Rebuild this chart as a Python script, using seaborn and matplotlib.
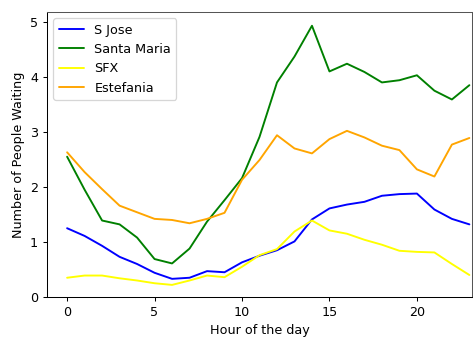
import numpy as np
import pandas as pd
import matplotlib
matplotlib.use("Agg")
import matplotlib.pyplot as plt
import seaborn as sns

hours = list(range(24))
s_jose = [1.25, 1.11, 0.93, 0.73, 0.60, 0.44, 0.33, 0.35, 0.47, 0.45, 0.63, 0.75,
          0.85, 1.01, 1.41, 1.61, 1.68, 1.73, 1.84, 1.87, 1.88, 1.59, 1.42, 1.32]
santa_maria = [2.55, 1.95, 1.39, 1.32, 1.08, 0.69, 0.61, 0.88, 1.37, 1.76, 2.16, 2.91,
               3.90, 4.37, 4.93, 4.10, 4.24, 4.09, 3.90, 3.94, 4.03, 3.75, 3.59, 3.85]
sfx = [0.35, 0.39, 0.39, 0.34, 0.30, 0.25, 0.22, 0.30, 0.39, 0.36, 0.55, 0.76,
       0.87, 1.19, 1.39, 1.21, 1.15, 1.04, 0.95, 0.84, 0.82, 0.81, 0.60, 0.40]
estefania = [2.63, 2.27, 1.96, 1.66, 1.54, 1.42, 1.40, 1.34, 1.42, 1.53, 2.13, 2.49,
             2.94, 2.70, 2.61, 2.87, 3.02, 2.90, 2.75, 2.67, 2.32, 2.19, 2.77, 2.89]
names = ["S Jose", "Santa Maria", "SFX", "Estefania"]
colors = ["blue", "green", "yellow", "orange"]

df = pd.DataFrame({
    "hour": hours * 4,
    "value": s_jose + santa_maria + sfx + estefania,
    "site": sum([[n] * 24 for n in names], []),
})

DPI = 92
sns.set_style("white")
plt.rcParams["font.family"] = ["DejaVu Sans"]
plt.rcParams["text.color"] = "black"
plt.rcParams["axes.labelcolor"] = "black"
plt.rcParams["xtick.color"] = "black"
plt.rcParams["ytick.color"] = "black"
fig = plt.figure(figsize=(473 / DPI, 338 / DPI), dpi=DPI)
ax = fig.add_axes([47 / 473, 1 - 297 / 338, 425 / 473, 285 / 338])
sns.lineplot(data=df, x="hour", y="value", hue="site", palette=colors,
             hue_order=names, ax=ax, linewidth=1.5)
ax.set_xlim(-1.15, 23.15)
ax.set_ylim(0, 5.18)
ax.set_xticks([0, 5, 10, 15, 20])
ax.set_yticks([0, 1, 2, 3, 4, 5])
ax.tick_params(axis="both", which="both", length=3.5, width=0.8, labelsize=10,
               direction="out", bottom=True, left=True, colors="black")
for s in ax.spines.values():
    s.set_color("black")
    s.set_linewidth(0.8)
ax.spines["top"].set_color("#555555")
ax.spines["right"].set_color("#555555")
ax.set_xlabel("Hour of the day", fontsize=10, color="black")
ax.set_ylabel("Number of People Waiting", fontsize=10, color="black")
leg = ax.legend(loc="upper left", fontsize=10, frameon=True, title=None)
leg.get_frame().set_edgecolor("#cccccc")
for t in leg.get_texts():
    t.set_color("black")
fig.savefig("out.png", dpi=DPI)
